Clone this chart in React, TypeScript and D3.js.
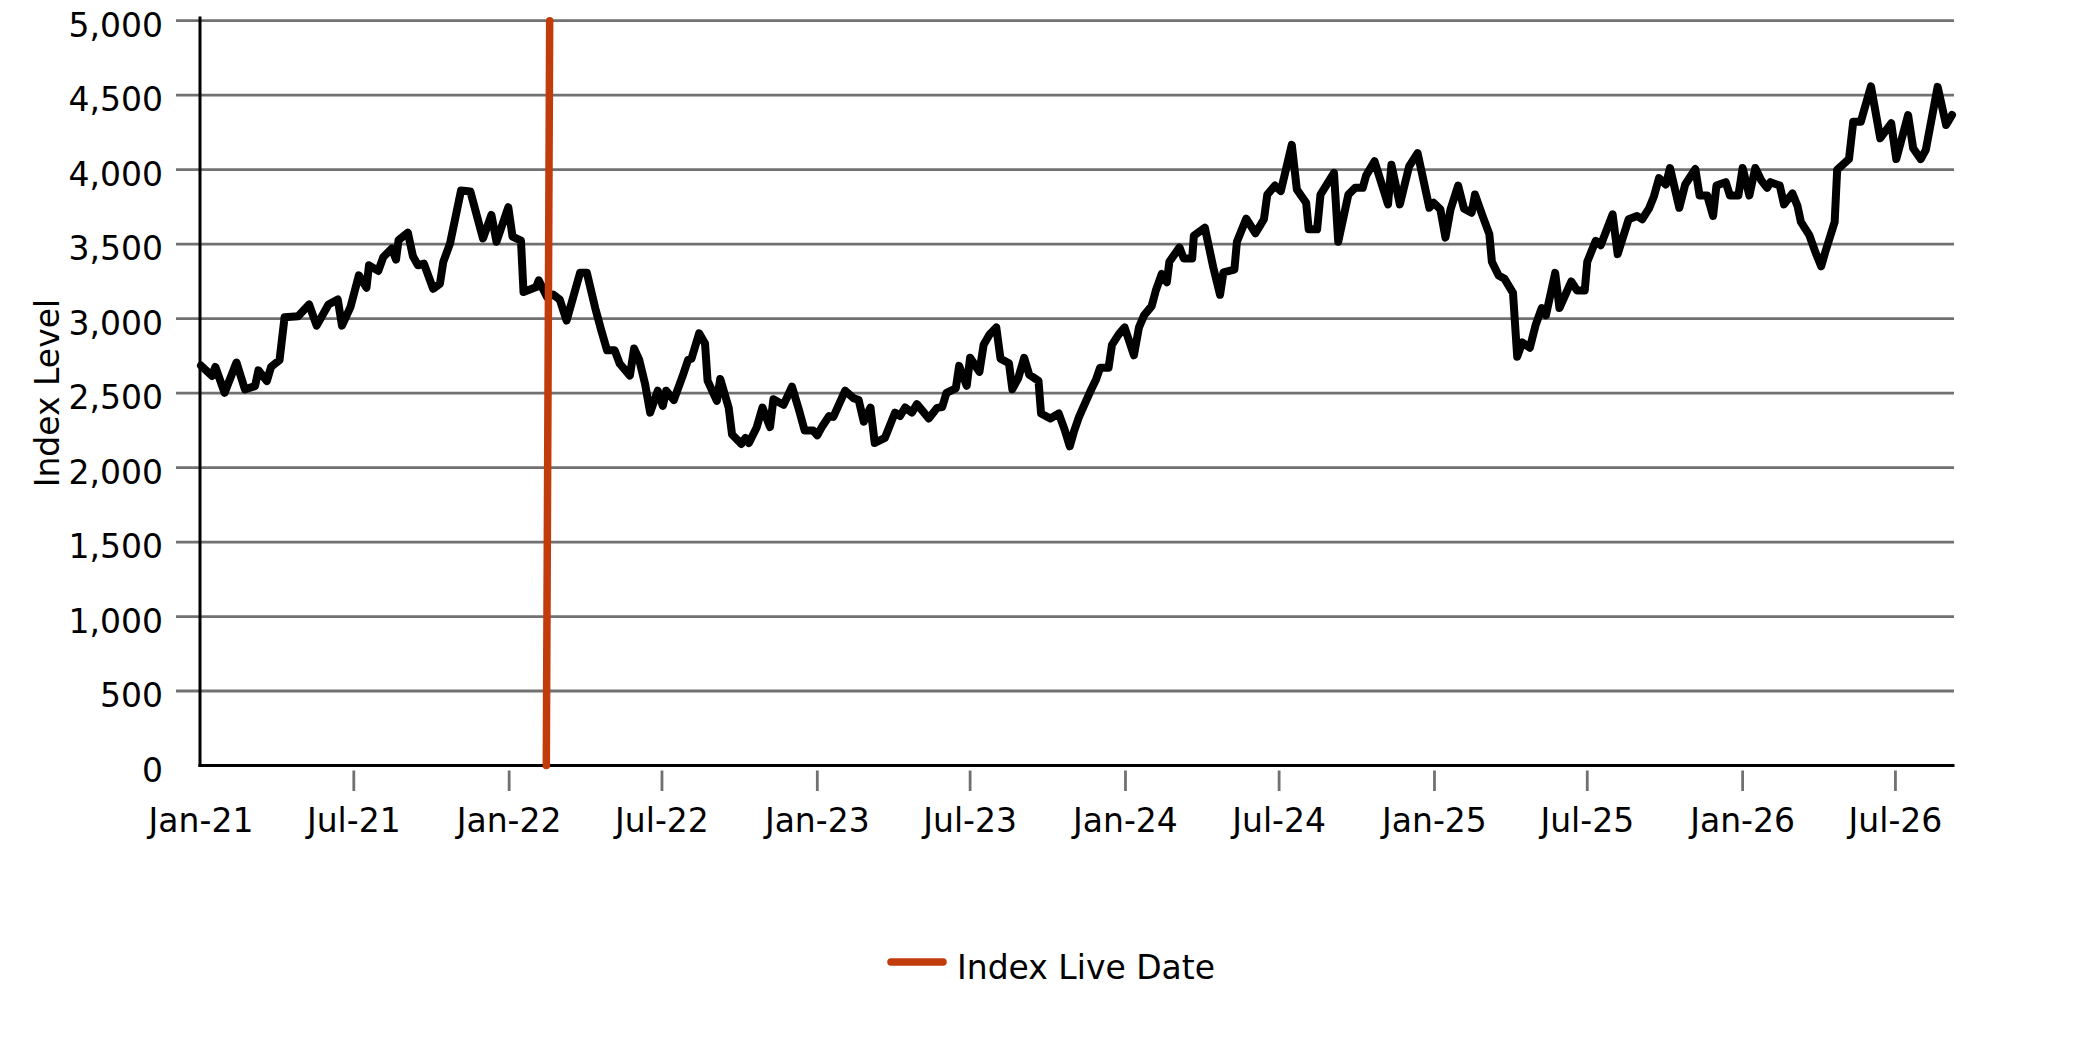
import * as d3 from "d3";

// index level, one value per date
const seriesDates = [
  "2021-01-01","2021-01-14","2021-01-18","2021-01-29","2021-02-12","2021-02-22","2021-03-06","2021-03-10","2021-03-20","2021-03-25",
  "2021-04-04","2021-04-10","2021-04-26","2021-05-09","2021-05-18","2021-06-01","2021-06-12","2021-06-17","2021-06-27","2021-07-07",
  "2021-07-16","2021-07-19","2021-07-30","2021-08-05","2021-08-15","2021-08-20","2021-08-23","2021-09-03","2021-09-09","2021-09-15",
  "2021-09-22","2021-10-03","2021-10-11","2021-10-15","2021-10-23","2021-11-05","2021-11-16","2021-12-01","2021-12-11","2021-12-17",
  "2021-12-31",
  "2022-01-05","2022-01-15","2022-01-18","2022-02-02","2022-02-05","2022-02-15","2022-02-22","2022-03-02","2022-03-10","2022-03-26",
  "2022-04-03","2022-04-13","2022-04-20","2022-04-27","2022-05-06","2022-05-12","2022-05-24","2022-05-29","2022-06-04","2022-06-11",
  "2022-06-17","2022-06-26","2022-07-02","2022-07-06","2022-07-15","2022-07-25","2022-08-01","2022-08-05","2022-08-14","2022-08-21",
  "2022-08-24","2022-09-04","2022-09-08","2022-09-18","2022-09-22","2022-10-03","2022-10-08","2022-10-12","2022-10-21","2022-10-28",
  "2022-11-06","2022-11-10","2022-11-22","2022-12-02","2022-12-10","2022-12-17","2022-12-27","2023-01-01",
  "2023-01-07","2023-01-15","2023-01-20","2023-02-03","2023-02-13","2023-02-19","2023-02-25","2023-03-05","2023-03-10","2023-03-22",
  "2023-04-03","2023-04-09","2023-04-15","2023-04-23","2023-04-29","2023-05-13","2023-05-23","2023-05-29","2023-06-03","2023-06-14",
  "2023-06-18","2023-06-27","2023-07-01","2023-07-12","2023-07-17","2023-07-24","2023-08-01","2023-08-06","2023-08-16","2023-08-20",
  "2023-08-27","2023-09-03","2023-09-09","2023-09-20","2023-09-23","2023-10-04","2023-10-14","2023-10-21","2023-10-27","2023-11-01",
  "2023-11-07","2023-11-13","2023-11-20","2023-11-27","2023-12-02","2023-12-12","2023-12-16","2023-12-24","2023-12-31",
  "2024-01-11","2024-01-17","2024-01-23","2024-02-01","2024-02-06","2024-02-13","2024-02-19","2024-02-22","2024-03-05","2024-03-10",
  "2024-03-20","2024-03-22","2024-04-04","2024-04-14","2024-04-22","2024-04-26","2024-05-09","2024-05-12","2024-05-23","2024-06-03",
  "2024-06-13","2024-06-17","2024-06-26","2024-07-03","2024-07-16","2024-07-22","2024-08-02","2024-08-05","2024-08-15","2024-08-19",
  "2024-09-04","2024-09-09","2024-09-21","2024-09-29","2024-10-08","2024-10-12","2024-10-22","2024-11-07","2024-11-11","2024-11-21",
  "2024-12-02","2024-12-12","2024-12-26","2024-12-31",
  "2025-01-08","2025-01-14","2025-01-20","2025-01-29","2025-02-05","2025-02-14","2025-02-18","2025-02-27","2025-03-07","2025-03-10",
  "2025-03-18","2025-03-25","2025-04-04","2025-04-09","2025-04-15","2025-04-24","2025-05-01","2025-05-08","2025-05-13","2025-05-24",
  "2025-05-29","2025-06-12","2025-06-19","2025-06-28","2025-07-01","2025-07-11","2025-07-17","2025-07-31","2025-08-06","2025-08-19",
  "2025-08-29","2025-09-04","2025-09-12","2025-09-18","2025-09-24","2025-10-02","2025-10-07","2025-10-18","2025-10-25","2025-11-06",
  "2025-11-11","2025-11-20","2025-11-27","2025-12-01","2025-12-12","2025-12-17","2025-12-27","2026-01-01","2026-01-09",
  "2026-01-16","2026-01-23","2026-01-30","2026-02-03","2026-02-14","2026-02-19","2026-03-01","2026-03-07","2026-03-11","2026-03-21",
  "2026-03-28","2026-04-04","2026-04-09","2026-04-20","2026-04-23","2026-05-07","2026-05-12","2026-05-21","2026-06-02","2026-06-13",
  "2026-06-26","2026-07-02","2026-07-16","2026-07-22","2026-07-31","2026-08-06","2026-08-20","2026-08-30","2026-09-06",
];

const seriesValues = [
  2685, 2615, 2676, 2502, 2705, 2525, 2547, 2653, 2581, 2676,
  2721, 3009, 3016, 3095, 2953, 3095, 3128, 2953, 3077, 3291,
  3207, 3358, 3320, 3414, 3471, 3396, 3527, 3577, 3419, 3358,
  3369, 3200, 3234, 3381, 3505, 3860, 3854, 3538, 3696, 3516,
  3748,
  3550, 3523, 3178, 3212, 3257, 3144, 3162, 3127, 2987, 3308,
  3308, 3070, 2923, 2787, 2787, 2697, 2618, 2799, 2724, 2561,
  2369, 2516, 2414, 2516, 2453, 2607, 2724, 2731, 2901, 2833,
  2584, 2448, 2595, 2403, 2222, 2159, 2199, 2165, 2267, 2403,
  2272, 2459, 2421, 2543, 2392, 2249, 2249, 2217,
  2278, 2346, 2340, 2516, 2466, 2453, 2308, 2403, 2165, 2199,
  2369, 2346, 2403, 2369, 2426, 2330, 2401, 2407, 2502, 2531,
  2683, 2549, 2737, 2643, 2824, 2894, 2941, 2730, 2700, 2526,
  2601, 2737, 2624, 2582, 2363, 2330, 2363, 2253, 2143, 2242,
  2341, 2418, 2507, 2589, 2671, 2671, 2824, 2894, 2941,
  2754, 2941, 3022, 3084, 3189, 3300, 3244, 3382, 3478, 3404,
  3404, 3556, 3611, 3344, 3160, 3311, 3329, 3516, 3671, 3573,
  3667, 3833, 3893, 3856, 4167, 3867, 3778, 3600, 3600, 3833,
  3978, 3516, 3833, 3878, 3878, 3960, 4056, 3767, 4033, 3767,
  4022, 4111, 3744, 3778,
  3733, 3544, 3733, 3893, 3738, 3711, 3833, 3689, 3567, 3382,
  3289, 3267, 3173, 2744, 2840, 2804, 2960, 3071, 3022, 3307,
  3071, 3249, 3189, 3189, 3382, 3522, 3493, 3700, 3433, 3667,
  3689, 3667, 3738, 3822, 3944, 3900, 4011, 3744, 3900, 4004,
  3827, 3827, 3689, 3893, 3916, 3827, 3827, 4011, 3827,
  4011, 3929, 3878, 3916, 3893, 3767, 3840, 3756, 3649, 3560,
  3449, 3351, 3449, 3649, 4000, 4071, 4322, 4322, 4560, 4211,
  4311, 4071, 4367, 4144, 4071, 4133, 4556, 4300, 4367,
];

// the "Index Live Date" marker
const liveDates = ["2022-02-14", "2022-02-18"];
const liveValues = [0, 5000];

const yTicks = [0, 500, 1000, 1500, 2000, 2500, 3000, 3500, 4000, 4500, 5000];
const xTickDates = [
  "2021-01-01", "2021-07-01", "2022-01-01", "2022-07-01", "2023-01-01", "2023-07-01",
  "2024-01-01", "2024-07-01", "2025-01-01", "2025-07-01", "2026-01-01", "2026-07-01",
];

const yTitle = "Index Level";
const legendLabel = "Index Live Date";

const width = 2083;
const height = 1042;
const margin = { top: 20.7, right: 131, bottom: 276.5, left: 201 };

const font = "'DejaVu Sans', sans-serif";
const gridColor = "#717171";
const lineColor = "#000000";
const liveColor = "#c23b0a";

export default function App() {
  const parseDate = d3.timeParse("%Y-%m-%d");
  const dates = seriesDates.map((d) => parseDate(d)!);
  const liveParsed = liveDates.map((d) => parseDate(d)!);
  const tickDates = xTickDates.map((d) => parseDate(d)!);

  const x0 = margin.left;
  const x1 = width - margin.right;
  const yBottom = height - margin.bottom;
  const axisX = x0 - 1;

  const x = d3
    .scaleTime()
    .domain(d3.extent(dates) as [Date, Date])
    .range([x0, x1]);

  const y = d3.scaleLinear().domain([0, 5000]).range([yBottom, margin.top]);

  const line = d3
    .line<number>()
    .x((_, i) => x(dates[i]))
    .y((d) => y(d));

  const liveLine = d3
    .line<number>()
    .x((_, i) => x(liveParsed[i]))
    .y((d) => y(d));

  const fmt = d3.timeFormat("%b-%y");
  const num = d3.format(",");

  return (
    <svg
      width={width}
      height={height}
      style={{ position: "absolute", left: 0, top: 0, background: "#fff" }}
      fontFamily={font}
    >
      {/* grid + y ticks */}
      {yTicks.map((t) => (
        <g key={t}>
          {t > 0 && (
            <line
              x1={axisX - 24}
              x2={x1 + 2}
              y1={y(t)}
              y2={y(t)}
              stroke={gridColor}
              strokeWidth={2.8}
            />
          )}
          <text
            x={axisX - 37}
            y={y(t) + 16}
            textAnchor="end"
            fontSize={33}
            fill="#000"
          >
            {num(t)}
          </text>
        </g>
      ))}

      {/* x ticks */}
      {tickDates.map((d, i) => (
        <g key={i}>
          {i > 0 && (
            <line
              x1={x(d)}
              x2={x(d)}
              y1={yBottom + 5}
              y2={yBottom + 25.5}
              stroke={gridColor}
              strokeWidth={2.8}
            />
          )}
          <text
            x={x(d)}
            y={yBottom + 66.5}
            textAnchor="middle"
            fontSize={33}
            fill="#000"
          >
            {fmt(d)}
          </text>
        </g>
      ))}

      {/* axes */}
      <line x1={axisX} x2={axisX} y1={16.5} y2={yBottom + 1.5} stroke="#000" strokeWidth={3} />
      <line x1={axisX - 1.5} x2={x1 + 2.5} y1={yBottom} y2={yBottom} stroke="#000" strokeWidth={3} />

      {/* series */}
      <path
        d={line(seriesValues) ?? ""}
        fill="none"
        stroke={lineColor}
        strokeWidth={8}
        strokeLinejoin="round"
        strokeLinecap="round"
      />
      <path
        d={liveLine(liveValues) ?? ""}
        fill="none"
        stroke={liveColor}
        strokeWidth={7.5}
        strokeLinecap="round"
      />

      <text
        transform={`translate(59,${(yBottom + margin.top) / 2}) rotate(-90)`}
        textAnchor="middle"
        fontSize={33}
        fill="#000"
      >
        {yTitle}
      </text>

      {/* legend */}
      <line x1={891} x2={943} y1={962} y2={962} stroke={liveColor} strokeWidth={7.5} strokeLinecap="round" />
      <text x={957} y={979} fontSize={33} fill="#000">
        {legendLabel}
      </text>
    </svg>
  );
}
